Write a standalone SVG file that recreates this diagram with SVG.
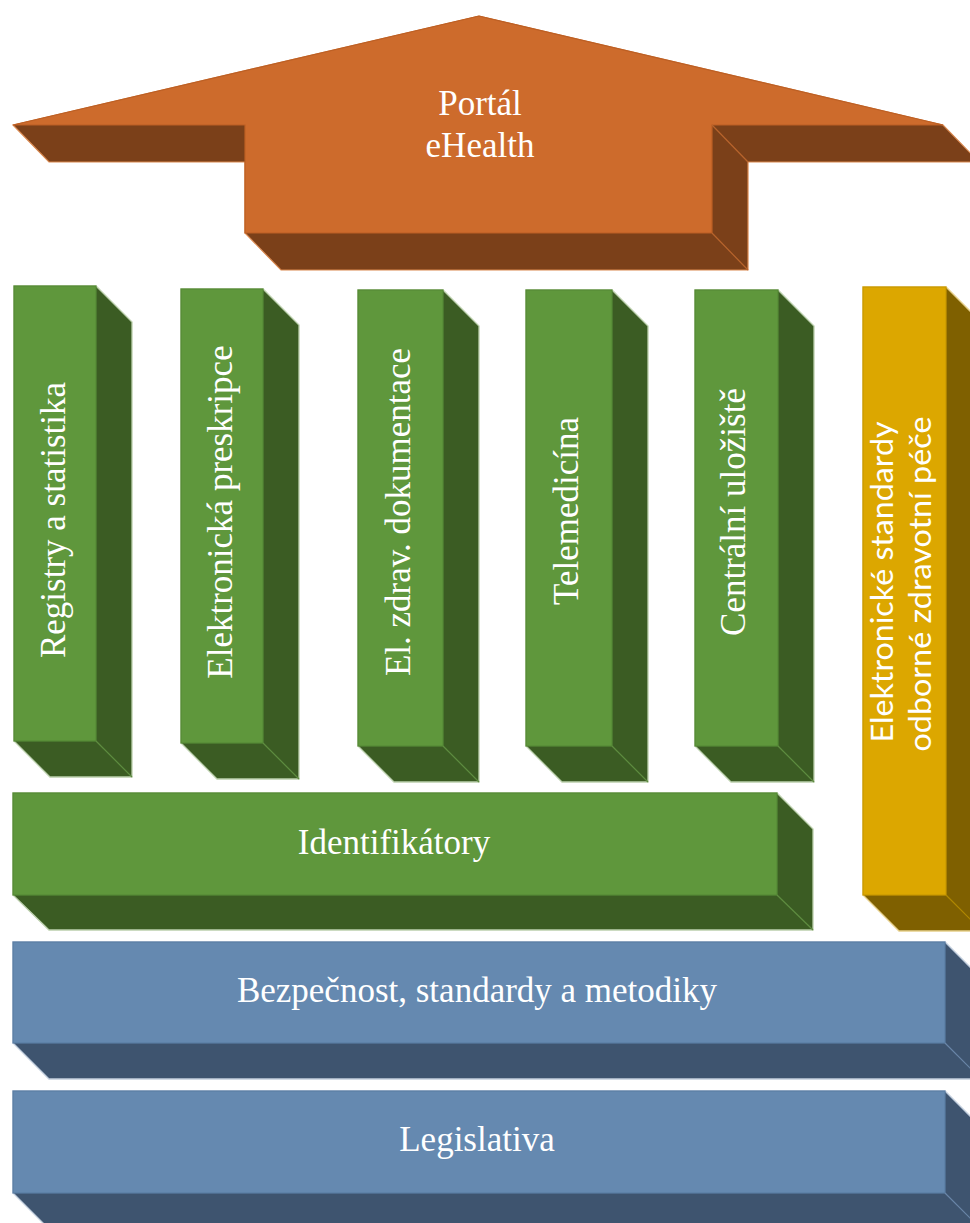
<svg xmlns="http://www.w3.org/2000/svg" width="970" height="1223" viewBox="0 0 970 1223">
<style>
.s{font-family:"Liberation Serif","Times New Roman",serif;font-size:35px;fill:#ffffff;text-anchor:middle}
.y{font-family:Lato,"Liberation Sans",sans-serif;font-size:31px;fill:#ffffff;text-anchor:middle}
.gD{fill:#3B5C23;stroke:#BCD0AD;stroke-width:1.3}
.gF{fill:#5F973C;stroke:#568A36;stroke-width:1.2}
.gE{stroke:#5E8C40;stroke-width:1.2}
.oD{fill:#7B4019;stroke:#D9884F;stroke-width:1.2}
.oF{fill:#CD6B2C;stroke:#BC5F24;stroke-width:1.2}
.oE{stroke:#B8642C;stroke-width:1.2}
.yD{fill:#7F6000;stroke:#E6CF8A;stroke-width:1.3}
.yF{fill:#DCA700;stroke:#C99800;stroke-width:1.2}
.yE{stroke:#B08800;stroke-width:1.2}
.bD{fill:#3E546F;stroke:#C2CEDD;stroke-width:1.3}
.bF{fill:#6589B0;stroke:#5B7EA4;stroke-width:1.2}
.bE{stroke:#6A86A8;stroke-width:1.2}
</style>
<rect width="970" height="1223" fill="#ffffff"/>
<g id="connectors"/>

<g id="portal">
<path class="oD" d="M13,125 L479,16 L943,125 L979,162 L748,162 L748,270 L281,270 L245,233 L245,162 L49,162 Z"/>
<path class="oF" d="M13,125 L479,16 L943,125 L712,125 L712,233 L245,233 L245,125 Z"/>
<line class="oE" x1="712" y1="125" x2="748" y2="162"/>
<line class="oE" x1="712" y1="233" x2="748" y2="270"/>
<text class="s" x="480" y="115">Portál</text>
<text class="s" x="480" y="157">eHealth</text>
</g>

<g id="registry">
<path class="gD" d="M14,286 L96,286 L132,322 L132,777 L50,777 L14,741 Z"/>
<rect class="gF" x="14" y="286" width="82" height="455"/>
<line class="gE" x1="96" y1="741" x2="132" y2="777"/>
<text class="s" transform="translate(65,520) rotate(-90)">Registry a statistika</text>
</g>

<g id="preskripce">
<path class="gD" d="M181,289 L263,289 L299,325 L299,779 L217,779 L181,743 Z"/>
<rect class="gF" x="181" y="289" width="82" height="454"/>
<line class="gE" x1="263" y1="743" x2="299" y2="779"/>
<text class="s" transform="translate(232,512) rotate(-90)">Elektronická preskripce</text>
</g>

<g id="dokumentace">
<path class="gD" d="M358,290 L443,290 L479,326 L479,782 L394,782 L358,746 Z"/>
<rect class="gF" x="358" y="290" width="85" height="456"/>
<line class="gE" x1="443" y1="746" x2="479" y2="782"/>
<text class="s" transform="translate(410,512) rotate(-90)">El. zdrav. dokumentace</text>
</g>

<g id="telemedicina">
<path class="gD" d="M526,290 L612,290 L648,326 L648,782 L562,782 L526,746 Z"/>
<rect class="gF" x="526" y="290" width="86" height="456"/>
<line class="gE" x1="612" y1="746" x2="648" y2="782"/>
<text class="s" transform="translate(578,511) rotate(-90)">Telemedicína</text>
</g>

<g id="uloziste">
<path class="gD" d="M695,290 L778,290 L814,326 L814,782 L731,782 L695,746 Z"/>
<rect class="gF" x="695" y="290" width="83" height="456"/>
<line class="gE" x1="778" y1="746" x2="814" y2="782"/>
<text class="s" transform="translate(745,512) rotate(-90)">Centrální uložiště</text>
</g>

<g id="standardy">
<path class="yD" d="M863,287 L946,287 L982,323 L982,931 L899,931 L863,895 Z"/>
<rect class="yF" x="863" y="287" width="83" height="608"/>
<line class="yE" x1="946" y1="895" x2="982" y2="931"/>
<text class="y" transform="translate(893,582) rotate(-90)" textLength="321" lengthAdjust="spacingAndGlyphs">Elektronické standardy</text>
<text class="y" transform="translate(931,584) rotate(-90)" textLength="335" lengthAdjust="spacingAndGlyphs">odborné zdravotní péče</text>
</g>

<g id="identifikatory">
<path class="gD" d="M13,793 L777,793 L813,829 L813,930 L49,930 L13,895 Z"/>
<rect class="gF" x="13" y="793" width="764" height="102"/>
<line class="gE" x1="777" y1="895" x2="813" y2="930"/>
<text class="s" x="394" y="854">Identifikátory</text>
</g>

<g id="bezpecnost">
<path class="bD" d="M13,942 L945,942 L981,978 L981,1079 L49,1079 L13,1043 Z"/>
<rect class="bF" x="13" y="942" width="932" height="101"/>
<line class="bE" x1="945" y1="1043" x2="981" y2="1079"/>
<text class="s" x="477" y="1002">Bezpečnost, standardy a metodiky</text>
</g>

<g id="legislativa">
<path class="bD" d="M13,1091 L945,1091 L981,1127 L981,1229 L49,1229 L13,1193 Z"/>
<rect class="bF" x="13" y="1091" width="932" height="102"/>
<line class="bE" x1="945" y1="1193" x2="981" y2="1229"/>
<text class="s" x="477" y="1151">Legislativa</text>
</g>
</svg>
